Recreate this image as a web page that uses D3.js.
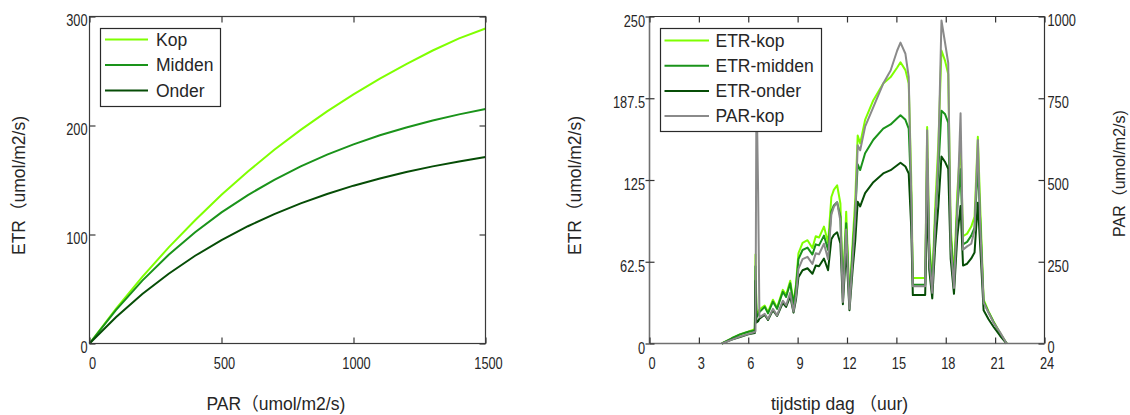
<!DOCTYPE html>
<html><head><meta charset="utf-8">
<script src="https://cdn.jsdelivr.net/npm/d3@7"></script>
<style>
body{margin:0;background:#fff}
svg{display:block}
text{font-family:"Liberation Sans",Arial,"Noto Sans CJK SC",sans-serif;fill:#262626}
</style>
</head><body>
<svg id="c" width="1130" height="415"></svg>
<script>
// ---------- Left chart: ETR vs PAR ----------
const parValues = [0,100,200,300,400,500,600,700,800,900,1000,1100,1200,1300,1400,1500];
const etrKop    = [0,31.7,61.1,88.2,113,136.5,157.8,177.7,196,213,228.5,243,256.4,268.8,280,289];
const etrMidden = [0,30.7,57.7,81.4,102.1,120.3,136.2,150.2,162.5,173.3,182.7,191,198.2,204.6,210.2,215.1];
const etrOnder  = [0,24.1,45.4,64,80.5,94.9,107.6,118.7,128.6,137.2,144.8,151.4,157.3,162.5,167,171];
const leftNames = ["Kop","Midden","Onder"];
const leftXTicks = [0,500,1000,1500];
const leftYTicks = [0,100,200,300];

// ---------- Right chart: daily course ----------
const hours = [4.4,5.0,5.5,6.0,6.4,6.44,6.5,6.6,6.68,7.0,7.2,7.5,7.75,8.1,8.3,8.55,8.75,8.9,9.05,9.3,9.6,9.9,10.1,10.3,10.6,10.85,11.05,11.2,11.4,11.6,11.75,11.95,12.15,12.35,12.5,12.65,12.8,13.1,13.6,14.2,14.65,15.05,15.25,15.55,15.75,15.9,16.0,16.75,16.87,17.0,17.18,17.35,17.55,17.74,17.95,18.15,18.3,18.5,18.7,18.9,19.05,19.3,19.55,19.75,19.95,20.1,20.3,20.6,20.9,21.3,21.7];
const parKop = [0,12,21,29,35,38,800,464,80,91,75,106,86,131,117,155,98,144,228,258,265,243,276,273,305,258,395,418,432,374,127,349,106,265,387,606,591,663,723,795,835,896,920,886,815,461,175,175,652,258,155,354,577,988,922,858,304,170,407,704,287,297,305,347,622,354,125,94,64,34,0];
const etrKopDay = [0,4,7,9,11,68,22,24,26,29,24,33.5,27.4,41,37,48,31,45,69,77,79,73,82,81,89.4,77,112,117.4,121,107,40,100.8,33.5,79,110,159,153,171,186,198.7,203.7,211,215,209,198.7,127.5,50,50,165.6,77,46,102,153,224,216.5,206,89,51,115,154,82,84,89.4,97,158,102,33.5,24.6,17,8,0];
const etrMiddenDay = [0,4,7,9,10,59,20,22,24,28,23,32,26.5,39.5,35.5,46,30,43,64.5,71.5,73.3,68,75.8,75,82.5,71.5,101,105.5,108,97,38.5,92,32,73,99.5,137,132.6,145.5,155.8,164.3,167.5,172.2,174.5,171,164.3,113.5,45,45,141.5,71.5,43,93,132.6,178,175.5,168.8,82.3,47,103.5,133.2,75.8,77.7,82.5,88.6,136.3,93,32,24,16.5,7.7,0];
const etrOnderDay = [0,3,5,7,8,48,16,17,19,22,18,25.5,21,31,28,36,23.6,33.5,50.7,56,57.5,53.3,59.6,59,65,56,79.7,83,85,76.5,30,72.5,25.5,57.5,78.4,108.3,104.8,115,123.3,130,132.5,136.3,138.2,135.3,130,89.3,37,37,111.8,56,34.5,73,104.8,143,139,133.6,64.7,38,81.5,105.2,59.6,61,65,69.6,107.7,73,25.5,18.6,12.8,5.9,0];
const rightNames = ["ETR-kop","ETR-midden","ETR-onder","PAR-kop"];
const hourTicks = [0,3,6,9,12,15,18,21,24];
const etrTicks = [0,62.5,125,187.5,250];
const parTicks = [0,250,500,750,1000];

const cKop = "#7fff00", cMid = "#1a931a", cOnd = "#064d06", cPar = "#8a8a8a";

const svg = d3.select("#c");
const yTop = 16.5, yBot = 343.5;

function condense(sel, f){
  sel.each(function(){
    const w = this.getComputedTextLength();
    d3.select(this).attr("textLength", w*f).attr("lengthAdjust","spacingAndGlyphs");
  });
}
function ticksOnly(g){ g.selectAll("text").remove(); g.select(".domain").remove(); }
function labelsOnly(g){ g.selectAll("line").remove(); g.select(".domain").remove(); }

// ===== LEFT =====
const xL = d3.scaleLinear([0,1500],[89.5,485.5]);
const yL = d3.scaleLinear([0,300],[yBot,yTop]);

const lineL = ys => d3.line().x((d,i)=>xL(parValues[i])).y(d=>yL(d))(ys);
const gL = svg.append("g");
[[etrKop,cKop],[etrMidden,cMid],[etrOnder,cOnd]].forEach(([ys,c])=>{
  gL.append("path").attr("d",lineL(ys)).attr("fill","none").attr("stroke",c).attr("stroke-width",2);
});

const frameL = "#3a3a3a";
gL.append("rect").attr("x",xL(0)).attr("y",yTop).attr("width",xL(1500)-xL(0)).attr("height",yBot-yTop)
  .attr("fill","none").attr("stroke",frameL).attr("stroke-width",1.2);

const tk = (g,c)=>{ g.selectAll("line").attr("stroke",c).attr("stroke-width",1.2); };
svg.append("g").attr("transform",`translate(0,${yBot})`).call(d3.axisBottom(xL).tickValues(leftXTicks).tickSizeInner(-6).tickSizeOuter(0)).call(ticksOnly).call(g=>tk(g,frameL));
svg.append("g").attr("transform",`translate(0,${yTop})`).call(d3.axisTop(xL).tickValues(leftXTicks).tickSizeInner(-6).tickSizeOuter(0)).call(ticksOnly).call(g=>tk(g,frameL));
svg.append("g").attr("transform",`translate(${xL(0)},0)`).call(d3.axisLeft(yL).tickValues(leftYTicks).tickSizeInner(-6).tickSizeOuter(0)).call(ticksOnly).call(g=>tk(g,frameL));
svg.append("g").attr("transform",`translate(${xL(1500)},0)`).call(d3.axisRight(yL).tickValues(leftYTicks).tickSizeInner(-6).tickSizeOuter(0)).call(ticksOnly).call(g=>tk(g,frameL));

const lx = svg.append("g").attr("transform",`translate(0,${yBot})`).call(d3.axisBottom(xL).tickValues(leftXTicks).tickSize(0).tickFormat(d3.format("d"))).call(labelsOnly);
lx.selectAll("text").attr("y",25).attr("dy",null).attr("dx",2.5).style("font-size","16px").attr("fill","#262626").call(s=>condense(s,0.8));
const ly = svg.append("g").attr("transform",`translate(${xL(0)},0)`).call(d3.axisLeft(yL).tickValues(leftYTicks).tickSize(0).tickFormat(d3.format("d"))).call(labelsOnly);
ly.selectAll("text").attr("x",-2).attr("dy","0.57em").style("font-size","16px").attr("fill","#262626").call(s=>condense(s,0.8));

svg.append("text").attr("x",206.5).attr("y",410).style("font-size","17.5px").text("PAR（umol/m2/s)");
svg.append("text").attr("transform","translate(25,255) rotate(-90)").style("font-size","17.5px").text("ETR（umol/m2/s)");

const lg = svg.append("g");
lg.append("rect").attr("x",100.5).attr("y",28.5).attr("width",120).attr("height",78).attr("fill","#fff").attr("stroke","#2a2a2a").attr("stroke-width",1.2);
[cKop,cMid,cOnd].forEach((c,i)=>{
  const yy = 39.5 + i*25.5;
  lg.append("line").attr("x1",105).attr("x2",148).attr("y1",yy).attr("y2",yy).attr("stroke",c).attr("stroke-width",2);
  lg.append("text").attr("x",156).attr("y",yy).attr("dy","0.36em").style("font-size","17.5px").text(leftNames[i]);
});

// ===== RIGHT =====
const xR = d3.scaleLinear([0,24],[649.5,1044.5]);
const yE = d3.scaleLinear([0,250],[yBot,yTop]);
const yP = d3.scaleLinear([0,1000],[yBot,yTop]);

const gR = svg.append("g");
const lineR = (ys,sc) => d3.line().x((d,i)=>xR(hours[i])).y(d=>sc(d))(ys);
[[etrKopDay,cKop],[etrMiddenDay,cMid],[etrOnderDay,cOnd]].forEach(([ys,c])=>{
  gR.append("path").attr("d",lineR(ys,yE)).attr("fill","none").attr("stroke",c).attr("stroke-width",2).attr("stroke-linejoin","round");
});
gR.append("path").attr("d",lineR(parKop,yP)).attr("fill","none").attr("stroke",cPar).attr("stroke-width",2).attr("stroke-linejoin","round");

const frameR = "#333", frameRL = "#707070";
gR.append("line").attr("x1",xR(0)).attr("x2",xR(24)).attr("y1",yTop).attr("y2",yTop).attr("stroke",frameR).attr("stroke-width",1.2);
gR.append("line").attr("x1",xR(24)).attr("x2",xR(24)).attr("y1",yTop).attr("y2",yBot).attr("stroke",frameR).attr("stroke-width",1.2);
gR.append("line").attr("x1",xR(0)).attr("x2",xR(24)).attr("y1",yBot).attr("y2",yBot).attr("stroke",frameRL).attr("stroke-width",1.4);
gR.append("line").attr("x1",xR(0)).attr("x2",xR(0)).attr("y1",yTop).attr("y2",yBot).attr("stroke",frameRL).attr("stroke-width",1.6);

svg.append("g").attr("transform",`translate(0,${yBot})`).call(d3.axisBottom(xR).tickValues(hourTicks).tickSizeInner(-6).tickSizeOuter(0)).call(ticksOnly).call(g=>tk(g,"#333"));
svg.append("g").attr("transform",`translate(0,${yTop})`).call(d3.axisTop(xR).tickValues(hourTicks).tickSizeInner(-6).tickSizeOuter(0)).call(ticksOnly).call(g=>tk(g,"#333"));
svg.append("g").attr("transform",`translate(${xR(0)},0)`).call(d3.axisLeft(yE).tickValues(etrTicks).tickSizeInner(-5).tickSizeOuter(0)).call(ticksOnly).call(g=>tk(g,"#333"));
svg.append("g").attr("transform",`translate(${xR(0)},0)`).call(d3.axisLeft(yE).tickValues(etrTicks).tickSizeInner(4).tickSizeOuter(0)).call(ticksOnly).call(g=>tk(g,"#333"));
svg.append("g").attr("transform",`translate(${xR(24)},0)`).call(d3.axisRight(yP).tickValues(parTicks).tickSizeInner(-6).tickSizeOuter(0)).call(ticksOnly).call(g=>tk(g,"#333"));

const rx = svg.append("g").attr("transform",`translate(0,${yBot})`).call(d3.axisBottom(xR).tickValues(hourTicks).tickSize(0).tickFormat(d3.format("d"))).call(labelsOnly);
rx.selectAll("text").attr("y",25).attr("dy",null).attr("dx",2).style("font-size","16px").attr("fill","#262626").call(s=>condense(s,0.8));
const ryl = svg.append("g").attr("transform",`translate(${xR(0)},0)`).call(d3.axisLeft(yE).tickValues(etrTicks).tickSize(0).tickFormat(d=>String(d))).call(labelsOnly);
ryl.selectAll("text").attr("x",-4.5).attr("dy","0.6em").style("font-size","16px").attr("fill","#262626").call(s=>condense(s,0.8));
const ryr = svg.append("g").attr("transform",`translate(${xR(24)},0)`).call(d3.axisRight(yP).tickValues(parTicks).tickSize(0).tickFormat(d=>String(d))).call(labelsOnly);
ryr.selectAll("text").attr("x",3).attr("dy","0.58em").style("font-size","16px").attr("fill","#262626").call(s=>condense(s,0.8));

svg.append("text").attr("x",771).attr("y",410).style("font-size","17.5px").text("tijdstip dag （uur)");
svg.append("text").attr("transform","translate(581,255) rotate(-90)").style("font-size","17.5px").text("ETR（umol/m2/s)");
svg.append("text").attr("transform","translate(1125,237) rotate(-90)").style("font-size","16px").text("PAR（umol/m2/s)");

const rg = svg.append("g");
rg.append("rect").attr("x",660.5).attr("y",28.5).attr("width",161).attr("height",103).attr("fill","#fff").attr("stroke","#2a2a2a").attr("stroke-width",1.2);
[cKop,cMid,cOnd,cPar].forEach((c,i)=>{
  const yy = 40.5 + i*25.2;
  rg.append("line").attr("x1",664.5).attr("x2",709).attr("y1",yy).attr("y2",yy).attr("stroke",c).attr("stroke-width",2);
  rg.append("text").attr("x",715.5).attr("y",yy).attr("dy","0.36em").style("font-size","17.5px").text(rightNames[i]);
});
</script>
</body></html>
